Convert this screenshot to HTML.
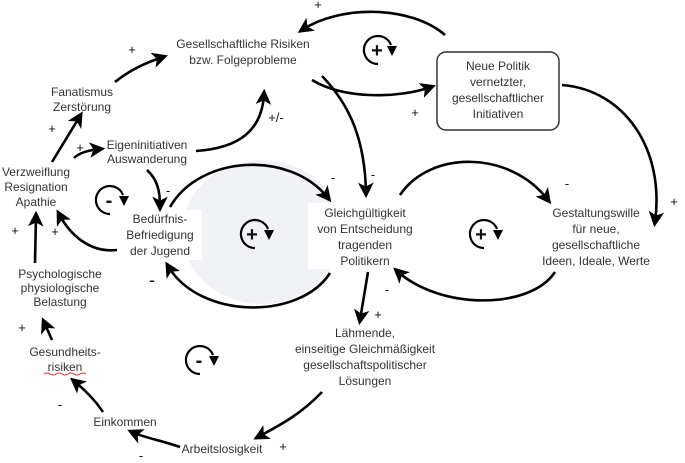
<!DOCTYPE html>
<html><head><meta charset="utf-8"><style>
html,body{margin:0;padding:0;background:#fff;}
svg{display:block;}
text{font-family:"Liberation Sans",Arial,sans-serif;font-size:12px;fill:#333;text-anchor:middle;}
.s{font-size:13px;fill:#111;}
.l{font-size:20px;font-weight:bold;fill:#111;}
path.a{fill:none;stroke:#000;stroke-width:2.6;marker-end:url(#ah);}
path.c{fill:none;stroke:#000;stroke-width:2.2;}
</style></head><body>
<svg width="685" height="463" viewBox="0 0 685 463" xmlns="http://www.w3.org/2000/svg">
<defs>
<marker id="ah" markerWidth="6" markerHeight="6" refX="4" refY="3" orient="auto" markerUnits="strokeWidth">
<path d="M0,0 L6,3 L0,6 L1.5,3 z" fill="#000"/></marker>
</defs>
<ellipse cx="262" cy="232" rx="80" ry="72" fill="#f1f2f6"/>
<rect x="120" y="210" width="82" height="50" fill="#fff"/>
<rect x="308" y="203" width="112" height="66" fill="#fff"/>

<rect x="437" y="52" width="122" height="78" rx="9" fill="#fff" stroke="#333" stroke-width="1.5"/>

<path class="a" d="M445,35 C410,5 340,5 302,30"/>
<path class="a" d="M312,80 C345,100 400,98 431,87"/>
<path class="a" d="M322,76 C350,105 365,140 366,193"/>
<path class="a" d="M562,85 C625,90 665,150 655,222"/>
<path class="a" d="M400,195 C430,150 510,150 548,200"/>
<path class="a" d="M555,272 C530,310 440,310 397,271"/>
<path class="a" d="M170,207 C200,155 290,150 328,198"/>
<path class="a" d="M330,273 C300,320 200,320 168,266"/>
<path class="a" d="M368,272 L360,320"/>
<path class="a" d="M322,392 C300,415 280,425 258,437"/>
<path class="a" d="M180,447 C160,440 145,438 132,432"/>
<path class="a" d="M103,412 C95,400 85,390 74,381"/>
<path class="a" d="M52,340 L44,322"/>
<path class="a" d="M35,263 L36,216"/>
<path class="a" d="M117,250 C90,253 70,235 59,214"/>
<path class="a" d="M52,162 L80,116"/>
<path class="a" d="M74,158 C80,152 90,150 100,149"/>
<path class="a" d="M115,82 C130,70 145,63 163,57"/>
<path class="a" d="M196,151 C240,148 262,130 264,94"/>
<path class="a" d="M147,170 C158,180 160,192 160,207"/>

<!-- loops -->
<g>
<path class="c" d="M378,64 A14,14 0 1 1 391,45"/>
<polygon points="387,46 397,46 392,56" fill="#000"/>
<text class="l" x="377" y="57">+</text>
</g>
<g>
<path class="c" d="M110,214 A14,14 0 1 1 123,195"/>
<polygon points="119,196 129,196 124,206" fill="#000"/>
<text class="l" x="109" y="207">-</text>
</g>
<g>
<path class="c" d="M255,248 A14,14 0 1 1 268,229"/>
<polygon points="264,230 274,230 269,240" fill="#000"/>
<text class="l" x="252" y="241">+</text>
</g>
<g>
<path class="c" d="M484,248 A14,14 0 1 1 497,229"/>
<polygon points="493,230 503,230 498,240" fill="#000"/>
<text class="l" x="481" y="241">+</text>
</g>
<g>
<path class="c" d="M200,374 A14,14 0 1 1 213,355"/>
<polygon points="209,356 219,356 214,366" fill="#000"/>
<text class="l" x="199" y="367">-</text>
</g>

<text x="243" y="48">Gesellschaftliche Risiken</text>
<text x="243" y="64">bzw. Folgeprobleme</text>
<text x="82" y="96">Fanatismus</text>
<text x="82" y="111">Zerstörung</text>
<text x="147" y="149">Eigeninitiativen</text>
<text x="147" y="163">Auswanderung</text>
<text x="36" y="176">Verzweiflung</text>
<text x="36" y="191">Resignation</text>
<text x="36" y="206">Apathie</text>
<text x="160" y="223">Bedürfnis-</text>
<text x="160" y="239">Befriedigung</text>
<text x="160" y="255">der Jugend</text>
<text x="365" y="217">Gleichgültigkeit</text>
<text x="365" y="233">von Entscheidung</text>
<text x="365" y="249">tragenden</text>
<text x="365" y="265">Politikern</text>
<text x="498" y="70">Neue Politik</text>
<text x="498" y="86">vernetzter,</text>
<text x="498" y="102">gesellschaftlicher</text>
<text x="498" y="118">Initiativen</text>
<text x="596" y="217">Gestaltungswille</text>
<text x="596" y="233">für neue,</text>
<text x="596" y="249">gesellschaftliche</text>
<text x="596" y="265">Ideen, Ideale, Werte</text>
<text x="60" y="278">Psychologische</text>
<text x="60" y="292">physiologische</text>
<text x="60" y="306">Belastung</text>
<text x="65" y="356">Gesundheits-</text>
<text x="65" y="371">risiken</text>
<path d="M44,374 Q47,372 50,374 T56,374 T62,374 T68,374 T74,374 T80,374 T86,374" fill="none" stroke="#d33" stroke-width="1"/>
<text x="365" y="337">Lähmende,</text>
<text x="365" y="353">einseitige Gleichmäßigkeit</text>
<text x="365" y="369">gesellschaftspolitischer</text>
<text x="365" y="385">Lösungen</text>
<text x="125" y="426">Einkommen</text>
<text x="222" y="453">Arbeitslosigkeit</text>

<text class="s" x="318" y="9">+</text>
<text class="s" x="415" y="117">+</text>
<text class="s" x="373" y="179">-</text>
<text class="s" x="674" y="206">+</text>
<text class="s" x="567" y="188">-</text>
<text class="s" x="387" y="294">-</text>
<text class="s" x="333" y="182">-</text>
<text class="s" x="152" y="286" style="font-size:18px">-</text>
<text class="s" x="378" y="319">+</text>
<text class="s" x="283" y="451">+</text>
<text class="s" x="141" y="460">-</text>
<text class="s" x="60" y="409">-</text>
<text class="s" x="22" y="332">+</text>
<text class="s" x="15" y="235">+</text>
<text class="s" x="55" y="236">+</text>
<text class="s" x="52" y="133">+</text>
<text class="s" x="80" y="152">+</text>
<text class="s" x="132" y="54">+</text>
<text class="s" x="276" y="122">+/-</text>
<text class="s" x="168" y="195">-</text>
</svg>
</body></html>
